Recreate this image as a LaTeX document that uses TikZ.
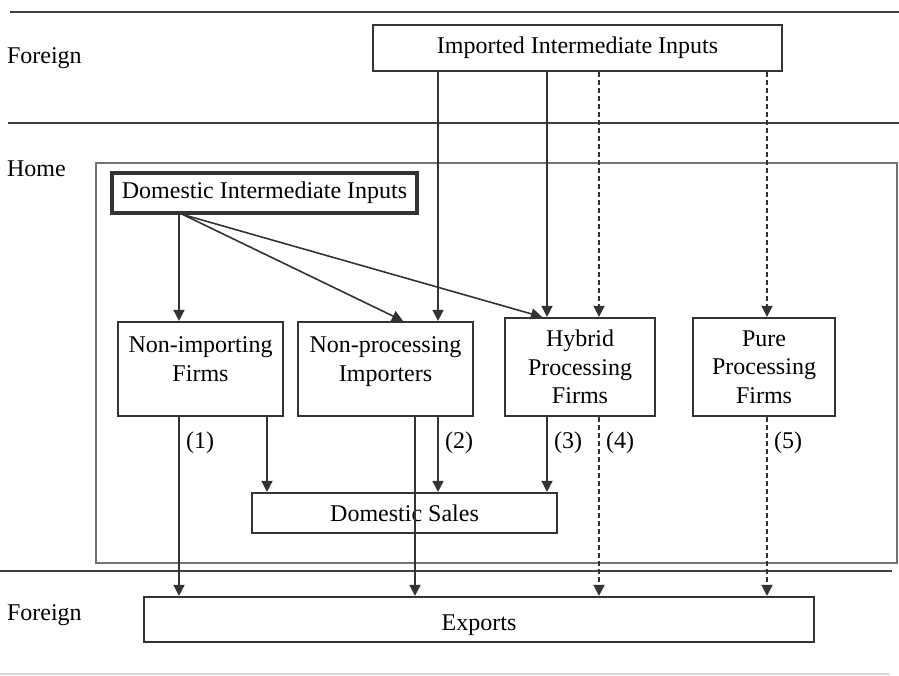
\documentclass[tikz,border=0pt]{standalone}
\usepackage{fontspec}
\setmainfont{Liberation Serif}
\usetikzlibrary{arrows.meta,calc}

\begin{document}
\begin{tikzpicture}[
        x = 0.5pt, y = -0.5pt,
        font = \fontsize{12}{14.2}\selectfont,
        box/.style = {draw=black!80, line width=1.1pt, inner sep=0pt, align=center},
        arr/.style = {black!80, line width=0.8pt, -{Triangle[length=5.5pt,width=5.5pt]}},
        dasharr/.style = {arr, dash pattern=on 2.5pt off 1.5pt},
        region/.style = {black!75, line width=0.9pt},
        num/.style = {anchor=west}
    ]

    \useasboundingbox (0,0) rectangle (899,675);

    % borders between foreign and home
    \draw[region] (10,12) -- (899,12);
    \draw[region] (8,123) -- (899,123);
    \draw[region] (0,571) -- (892,571);
    \draw[black!15, line width=0.6pt] (0,674) -- (890,674);
    \draw[black!55, line width=0.9pt] (96,163) rectangle (897,563);

    \node[anchor=base west] (foreigntop) at (0,63) {Foreign};
    \node[anchor=base west] (home) at (0,176) {Home};
    \node[anchor=base west] (foreignbot) at (0,620) {Foreign};

    \node[box, minimum width=204.5pt, minimum height=23pt] (imp) at (577.5,48) {Imported Intermediate Inputs};
    \node[box, line width=1.6pt, minimum width=152.5pt, minimum height=20pt] (dom) at (264.5,193) {Domestic Intermediate Inputs};

    \node[box, minimum width=82.5pt, minimum height=47pt] (nonimp) at (200.5,369) {Non-importing\\Firms\\[-4.2pt]\mbox{}};
    \node[box, minimum width=87.5pt, minimum height=47pt] (nonproc) at (385.5,369) {Non-processing\\Importers\\[-4.2pt]\mbox{}};
    \node[box, minimum width=75pt, minimum height=49pt] (hybrid) at (580,367) {Hybrid\\Processing\\Firms};
    \node[box, minimum width=71pt, minimum height=49pt] (pure) at (764,367) {Pure\\Processing\\Firms};

    \node[box, minimum width=152.5pt, minimum height=20pt] (domsales) at (404.5,513) {Domestic Sales};
    \node[box, minimum width=335pt, minimum height=22.5pt, text height=10.5pt, text depth=0pt] (exports) at (479,619.5) {Exports};

    % columns of the flows
    \foreach \name/\x in {c1/179, c2/267, c3/415, c4/438, c5/547, c6/599, c7/767, d2/403, d3/542}
        \coordinate (\name) at (\x,0);

    \draw[arr] (dom.south -| c1) -- (nonimp.north -| c1);
    \draw[arr] ([xshift=2pt]dom.south -| c1) -- (nonproc.north -| d2);
    \draw[arr] ([xshift=2pt]dom.south -| c1) -- (hybrid.north -| d3);

    \draw[arr] (imp.south -| c4) -- (nonproc.north -| c4);
    \draw[arr] (imp.south -| c5) -- (hybrid.north -| c5);
    \draw[dasharr] (imp.south -| c6) -- (hybrid.north -| c6);
    \draw[dasharr] (imp.south -| c7) -- (pure.north -| c7);

    \draw[arr] (nonimp.south -| c1) -- (exports.north -| c1);
    \draw[arr] (nonimp.south -| c2) -- (domsales.north -| c2);
    \draw[arr] (nonproc.south -| c3) -- (exports.north -| c3);
    \draw[arr] (nonproc.south -| c4) -- (domsales.north -| c4);
    \draw[arr] (hybrid.south -| c5) -- (domsales.north -| c5);
    \draw[dasharr] (hybrid.south -| c6) -- (exports.north -| c6);
    \draw[dasharr] (pure.south -| c7) -- (exports.north -| c7);

    \foreach \col/\k in {c1/1, c4/2, c5/3, c6/4, c7/5}
        \node[num] (flow\k) at (\col |- 0,443) {(\k)};
\end{tikzpicture}
\end{document}
